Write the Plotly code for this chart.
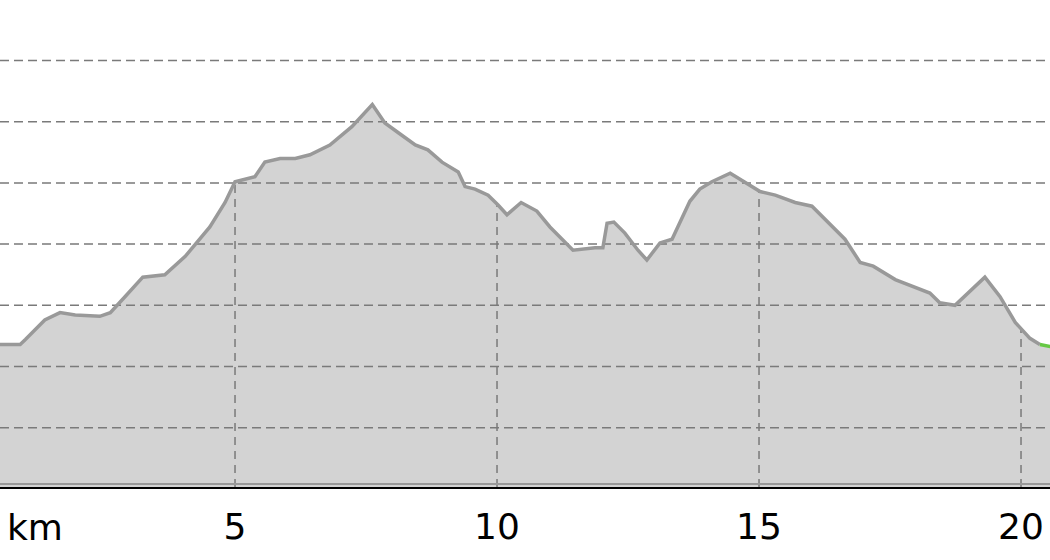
import numpy as np
import plotly.graph_objects as go

# perfil de altura (km, m)
km = [0.50, 0.90, 1.00, 1.37, 1.66, 1.95, 2.42, 2.62, 2.90, 3.24, 3.66, 4.05,
      4.52, 4.81, 5.00, 5.38, 5.57, 5.86, 6.15, 6.43, 6.81, 7.00, 7.23, 7.62,
      7.86, 8.15, 8.44, 8.68, 8.95, 9.26, 9.39, 9.58, 9.83, 10.02, 10.19, 10.46,
      10.76, 11.01, 11.20, 11.45, 11.87, 12.02, 12.10, 12.23, 12.44, 12.69, 12.86,
      13.11, 13.34, 13.49, 13.68, 13.87, 14.10, 14.45, 14.73, 15.02, 15.31, 15.69,
      16.01, 16.26, 16.64, 16.93, 17.18, 17.60, 17.98, 18.26, 18.45, 18.74, 19.31,
      19.60, 19.89, 20.17, 20.36]
altura = [518, 518, 522, 538, 544, 542, 541, 544, 557, 573, 575, 590,
          614, 634, 651, 655, 667, 670, 670, 673, 681, 688, 696, 714,
          699, 690, 681, 677, 667, 659, 647, 645, 640, 632, 624, 634,
          627, 614, 606, 595, 597, 597, 617, 618, 609, 595, 587,
          601, 604, 618, 635, 645, 651, 658, 651, 643, 640, 634,
          631, 620, 604, 585, 582, 571, 565, 560, 552, 550, 573,
          557, 536, 523, 518]

# último tramo en verde
km_final = [20.36, 20.60]
altura_final = [518, 516]

marcas_km = [5, 10, 15, 20]
etiquetas_km = ['5', '10', '15', '20']
rejilla_alturas = [450, 500, 550, 600, 650, 700, 750]

Y_MIN, Y_MAX = 401.5, 799.5
X_MIN, X_MAX = 0.515, 20.553

# líneas verticales de la rejilla: sólo bajo el perfil
vx, vy = [], []
for m in marcas_km:
    vx += [m, m, None]
    vy += [Y_MIN, float(np.interp(m, km, altura)), None]

# líneas horizontales (encima del relleno)
hx, hy = [], []
for a in rejilla_alturas:
    hx += [X_MIN, X_MAX, None]
    hy += [a, a, None]

rejilla = dict(color='#7a7a7a', width=1.5, dash='9px,5px')

fig = go.Figure()
fig.add_trace(go.Scatter(
    x=km + km_final[1:], y=altura + altura_final[1:], mode='lines',
    fill='tozeroy', fillcolor='#d3d3d3', line=dict(color='#d3d3d3', width=0),
    hoverinfo='skip', showlegend=False,
))
fig.add_trace(go.Scatter(x=hx, y=hy, mode='lines', line=rejilla,
                         hoverinfo='skip', showlegend=False))
fig.add_trace(go.Scatter(x=vx, y=vy, mode='lines',
                         line=dict(color='#7a7a7a', width=1.5, dash='8px,6px'),
                         hoverinfo='skip', showlegend=False))
fig.add_trace(go.Scatter(
    x=km, y=altura, mode='lines',
    line=dict(color='#999999', width=3.5),
    showlegend=False,
))
fig.add_trace(go.Scatter(
    x=km_final, y=altura_final, mode='lines',
    line=dict(color='#66c844', width=3.5),
    showlegend=False,
))

fig.update_layout(
    width=1050, height=560,
    margin=dict(l=0, r=0, t=0, b=73),
    paper_bgcolor='white', plot_bgcolor='white',
    font=dict(family='DejaVu Sans', size=36, color='black'),
    xaxis=dict(
        range=[X_MIN, X_MAX], tickvals=marcas_km, ticktext=etiquetas_km,
        showgrid=False, zeroline=False, ticks='',
        showline=True, linecolor='black', linewidth=2,
        tickfont=dict(size=36), ticklabelstandoff=7,
    ),
    yaxis=dict(
        range=[Y_MIN, Y_MAX], showticklabels=False, zeroline=False,
        ticks='', showgrid=False,
    ),
    shapes=[dict(
        type='line', xref='paper', yref='paper', x0=0, x1=1, y0=0.006, y1=0.006,
        line=dict(color='#999999', width=2),
    )],
    annotations=[dict(
        text='km', xref='paper', yref='paper', x=35 / 1050, y=-0.084,
        xanchor='center', yanchor='middle', showarrow=False,
        font=dict(size=36),
    )],
)

fig.write_html("out.html", config={'displayModeBar': False},
               post_script="document.body.style.margin='0';")
